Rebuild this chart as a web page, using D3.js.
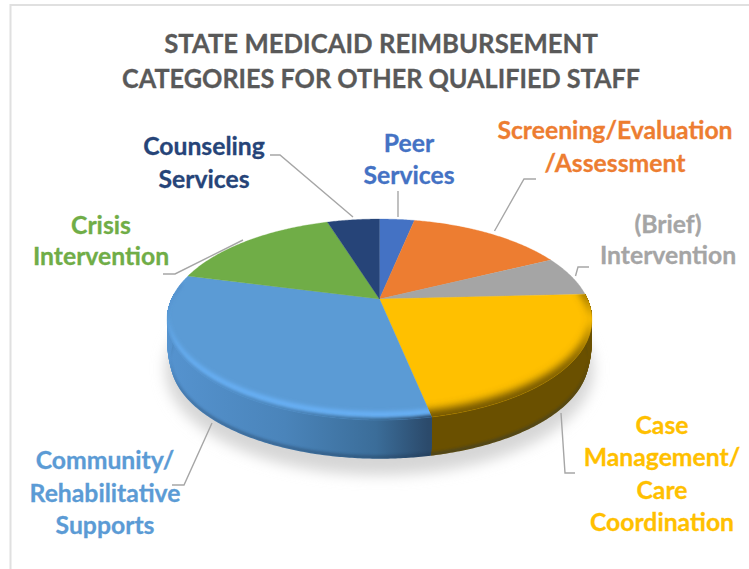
<!DOCTYPE html>
<html><head><meta charset="utf-8">
<script src="https://cdn.jsdelivr.net/npm/d3@7/dist/d3.min.js"></script>
<style>html,body{margin:0;padding:0;background:#fff;overflow:hidden}svg{display:block}text{font-family:Lato,"Open Sans",sans-serif;font-weight:700}</style>
</head><body><div id="chart"></div>
<script>
const categories = ["Peer Services","Screening/Evaluation /Assessment","(Brief) Intervention","Case Management/ Care Coordination","Community/ Rehabilitative Supports","Crisis Intervention","Counseling Services"];
const values = [2,9,4,14,20,10,3];
const colors = ["#4472c4","#ed7d31","#a5a5a5","#ffc000","#5b9bd5","#70ad47","#264478"];
const labelLines = [["Peer","Services"],["Screening/Evaluation","/Assessment"],["(Brief)","Intervention"],["Case","Management/","Care","Coordination"],["Community/","Rehabilitative","Supports"],["Crisis","Intervention"],["Counseling","Services"]];
const titleLines = ["STATE MEDICAID REIMBURSEMENT","CATEGORIES FOR OTHER QUALIFIED STAFF"];

// layout (label placement and leader routes)
const labelLayout = [
 {x:409,y:[152,184],leader:[[398,191],[398,217]]},
 {x:615,y:[139,172],leader:[[536,179],[524,179],[494.5,231]]},
 {x:668,y:[233,264],leader:[[589,267],[578,267],[575.5,276]]},
 {x:662,y:[434,466,499,531],leader:[[575,473],[565,473],[561,413]]},
 {x:105,y:[469,502,534],leader:[[172,485],[184,485],[212,423]]},
 {x:101,y:[234,265],leader:[[163,274],[175,274],[243,240]]},
 {x:204,y:[155,188],leader:[[270,155],[280,155],[353,217]]}
];
const W=749,H=569, cx=379.5, cy=299, R=208, B=96.3, K=-0.204, depth=41, bottomR=0.985, bulge=20;
const labelScale=0.99, titleScales=[0.935,0.917];

const svg=d3.select("#chart").append("svg").attr("width",W).attr("height",H);
const defs=svg.append("defs");
[["blur4",4],["blur2",2],["blur1",1.5],["shadow",7]].forEach(([id,s])=>{
  defs.append("filter").attr("id",id).attr("x","-20%").attr("y","-30%").attr("width","140%").attr("height","160%")
    .append("feGaussianBlur").attr("stdDeviation",s);
});
// frame
svg.append("path").attr("d",`M10.5,${H}V5H${W}`).attr("fill","none").attr("stroke","#e0e0e0").attr("stroke-width",2);

// projected disc: angle clockwise from north
function project(t,r=1,lift=0){
  const u=r*Math.sin(t), v=-r*Math.cos(t), d=1+K*v;
  return [cx+R*u/d, cy+B*v/d+lift];
}
const line=d3.line();
const sweep=(a0,a1,r=1,lift=0)=>{
  const n=Math.max(2,Math.ceil(Math.abs(a1-a0)/0.01));
  return d3.range(n+1).map(i=>project(a0+(a1-a0)*i/n,r,lift));
};
const slices=d3.pie().sort(null).value(d=>d)(values);
const front0=Math.PI*0.52, front1=Math.PI*1.48;
const wallFrom=Math.PI*0.48, wallTo=Math.PI*1.52;

// ground shadow
svg.append("ellipse").attr("cx",cx).attr("cy",369).attr("rx",214).attr("ry",106)
  .attr("fill","#d6d6d6").attr("filter","url(#shadow)");

// wall gradients
const wallStops={3:[[0,"#6a5000"],[1,"#6a5000"]],4:[[0,"#2b4a6b"],[0.2,"#3b6d99"],[0.55,"#4a84ba"],[1,"#5593cf"]]};
Object.entries(wallStops).forEach(([i,st])=>{
  const g=defs.append("linearGradient").attr("id","wall"+i).attr("gradientUnits","userSpaceOnUse")
    .attr("x1",428).attr("x2",168).attr("y1",0).attr("y2",0);
  if(+i===3){g.attr("x1",428).attr("x2",592);}
  st.forEach(([o,c])=>g.append("stop").attr("offset",o).attr("stop-color",c));
});
// walls: a stack of thin overlapping bands gives the rounded silhouette; front-facing arcs only
const wallRadius=l=>l<=bulge?1:1-(1-bottomR)*Math.pow((l-bulge)/(depth-bulge),2);
const wallLifts=d3.range(depth,0,-1.5);
slices.forEach((s,i)=>{
  const a0=Math.max(s.startAngle,wallFrom), a1=Math.min(s.endAngle,wallTo);
  if(a1-a0<0.02) return;
  const fill=wallStops[i]?`url(#wall${i})`:d3.color(colors[i]).darker(1.2);
  wallLifts.forEach(l=>{
    svg.append("path").attr("d",line(sweep(a0,a1).concat(sweep(a1,a0,wallRadius(l),l)))+"Z").attr("fill",fill);
  });
});
// dark lower edge of the wall
defs.append("clipPath").attr("id","wallClip").append("path")
  .attr("d",line(sweep(front0,front1).concat(sweep(front1,front0,bottomR,depth)))+"Z");
svg.append("g").attr("clip-path","url(#wallClip)").append("path")
  .attr("d",line(sweep(front0,front1,bottomR,depth).concat(sweep(front1,front0,bottomR,depth-3)))+"Z")
  .attr("fill","#1e3550").attr("opacity",0.45).attr("filter","url(#blur1)");

// top faces
const center=project(0,0);
const facePath=s=>line([center].concat(sweep(s.startAngle,s.endAngle)))+"Z";
slices.forEach((s,i)=>{
  svg.append("path").attr("d",facePath(s)).attr("fill",colors[i]).attr("stroke",colors[i]).attr("stroke-width",0.3);
});
// bevel: crescents along the front rim, clipped to their slice
const crescent=(a0,a1,l0,l1)=>line(sweep(a0,a1,1,l0).concat(sweep(a1,a0,1,l1)))+"Z";
slices.forEach((s,i)=>{
  defs.append("clipPath").attr("id","face"+i).append("path").attr("d",facePath(s));
});
const bevelA=svg.append("g").attr("clip-path","url(#face3)");
bevelA.append("path").attr("d",crescent(front0-0.2,front1,6,-7)).attr("fill","#6a5000").attr("filter","url(#blur4)");
const bevelB=svg.append("g").attr("clip-path","url(#face4)");
bevelB.append("path").attr("d",crescent(front0,front1+0.25,-3,-8)).attr("fill","#6ab4fb").attr("filter","url(#blur2)");
bevelB.append("path").attr("d",crescent(front0,front1+0.25,5,-2)).attr("fill","url(#wall4)").attr("filter","url(#blur1)");

// leaders
slices.forEach((s,i)=>{
  svg.append("path").attr("d",line(labelLayout[i].leader)).attr("fill","none").attr("stroke","#a6a6a6").attr("stroke-width",1.4);
});
// labels
labelLines.forEach((ls,i)=>{
  ls.forEach((t,j)=>{
    svg.append("text").attr("transform",`translate(${labelLayout[i].x},${labelLayout[i].y[j]}) scale(${labelScale},1)`)
      .attr("text-anchor","middle").attr("font-size",25).attr("fill",colors[i])
      .attr("stroke",colors[i]).attr("stroke-width",0.3).text(t);
  });
});
// title
titleLines.forEach((t,j)=>{
  svg.append("text").attr("transform",`translate(381,${[53,88][j]}) scale(${titleScales[j]},1)`)
    .attr("text-anchor","middle").attr("font-size",27.5).attr("fill","#595959")
    .attr("stroke","#595959").attr("stroke-width",0.3).text(t);
});
</script></body></html>
